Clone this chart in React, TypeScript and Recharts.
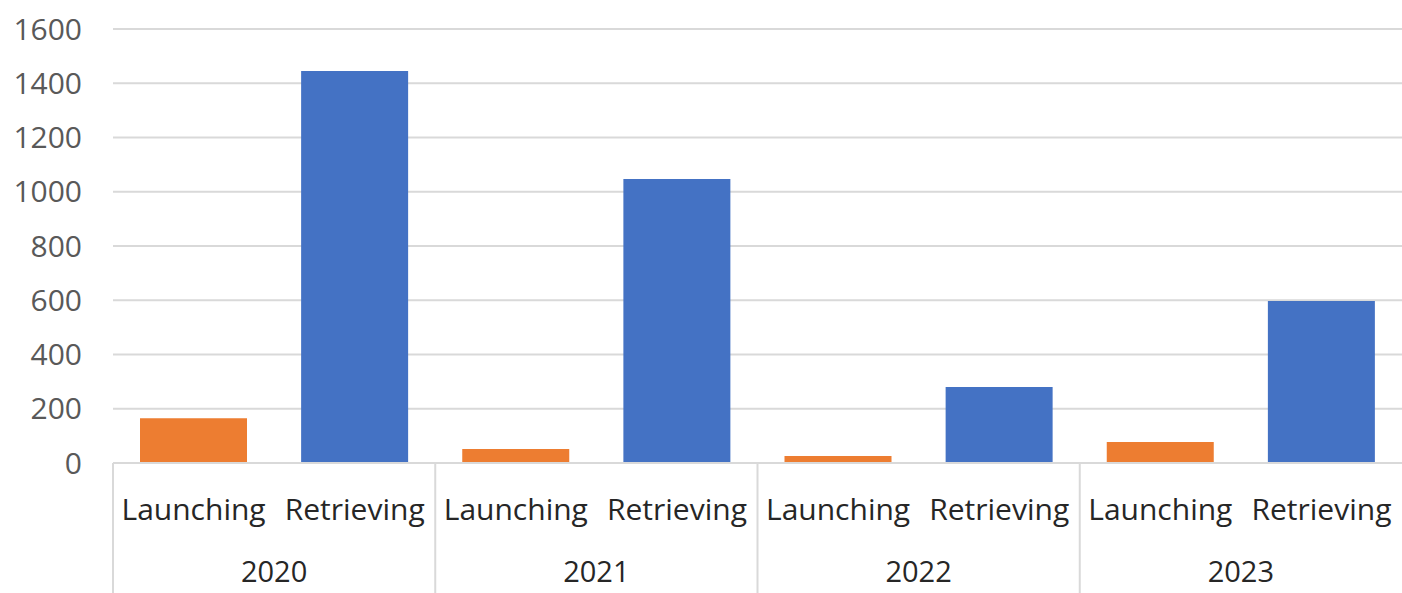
import { Bar, BarChart, CartesianGrid, Cell, XAxis, YAxis } from "recharts";

const years = ["2020", "2021", "2022", "2023"];
const kinds = ["Launching", "Retrieving"];
const launching = [165, 52, 26, 77];
const retrieving = [1445, 1047, 280, 597];
const yTicks = [0, 200, 400, 600, 800, 1000, 1200, 1400, 1600];

const COLOR_LAUNCHING = "#ED7D31";
const COLOR_RETRIEVING = "#4472C4";
const GRID = "#d9d9d9";
const FONT = "'Open Sans', sans-serif";

const CHART_W = 1402;
const CHART_H = 593;
const PLOT_LEFT = 113;
const KIND_H = 60;
const YEAR_H = 70;

const rows = years.flatMap((year, i) => [
  { year, kind: kinds[0], value: launching[i] },
  { year, kind: kinds[1], value: retrieving[i] },
]);

const groupHalf = (CHART_W - PLOT_LEFT) / years.length / 2;

function KindTick({ x, y, payload }: any) {
  return (
    <text x={x} y={y + 45} textAnchor="middle" dominantBaseline="central" fontFamily={FONT} fontSize={30} fill="#262626">
      {payload.value}
    </text>
  );
}

function YearTick({ x, y, payload }: any) {
  const half = payload.offset || groupHalf;
  const left = x - half;
  return (
    <g>
      <line x1={left} x2={left} y1={y - KIND_H} y2={y + YEAR_H} stroke={GRID} strokeWidth={2} />
      <text x={x} y={y + 47} textAnchor="middle" dominantBaseline="central" fontFamily={FONT} fontSize={29} fill="#262626">
        {payload.value}
      </text>
    </g>
  );
}

export default function App() {
  return (
    <div style={{ position: "absolute", left: 0, top: 0, width: CHART_W, height: CHART_H, background: "#fff" }}>
      <BarChart width={CHART_W} height={CHART_H} data={rows} margin={{ top: 29, right: 0, left: 0, bottom: 0 }}>
        <CartesianGrid vertical={false} stroke={GRID} strokeWidth={2} />
        <XAxis
          dataKey="kind"
          height={KIND_H}
          interval={0}
          tickSize={0}
          tickMargin={0}
          tickLine={false}
          axisLine={{ stroke: GRID, strokeWidth: 2 }}
          tick={<KindTick />}
        />
        <XAxis
          xAxisId="year"
          dataKey="year"
          allowDuplicatedCategory={false}
          height={YEAR_H}
          interval={0}
          tickSize={0}
          tickMargin={0}
          tickLine={false}
          axisLine={false}
          tick={<YearTick />}
        />
        <YAxis
          width={PLOT_LEFT}
          domain={[0, 1600]}
          ticks={yTicks}
          interval={0}
          axisLine={false}
          tickLine={false}
          tickSize={0}
          tickMargin={31}
          tick={{ fontFamily: FONT, fontSize: 30, fill: "#595959" }}
        />
        <Bar dataKey="value" barSize={107} isAnimationActive={false}>
          {rows.map((row, i) => (
            <Cell key={i} fill={row.kind === kinds[0] ? COLOR_LAUNCHING : COLOR_RETRIEVING} />
          ))}
        </Bar>
      </BarChart>
    </div>
  );
}
